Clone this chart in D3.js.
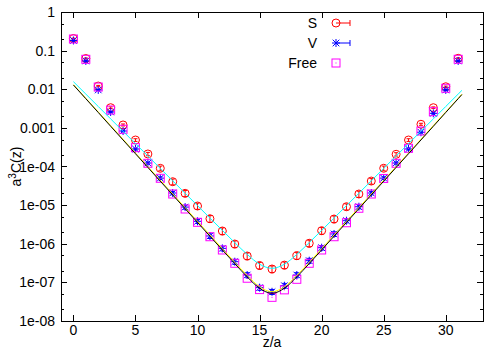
<!DOCTYPE html>
<html><head><meta charset="utf-8">
<script src="https://cdn.jsdelivr.net/npm/d3@7"></script>
<style>
body{margin:0;background:#fff}
svg{display:block}
text{font-family:"Liberation Sans",Arial,Helvetica,sans-serif;fill:#000}
</style>
</head><body>
<svg id="c" width="500" height="350"></svg>
<script>
// ---- data ----
const zs = [0,1,2,3,4,5,6,7,8,9,10,11,12,13,14,15,16,17,18,19,20,21,22,23,24,25,26,27,28,29,30,31];
const sVals = [0.206,0.0625,0.0121,3.33e-3,1.19e-3,4.85e-4,2.11e-4,8.98e-5,4.04e-5,2.02e-5,9.49e-6,4.45e-6,2.14e-6,9.85e-7,4.82e-7,2.74e-7,2.22e-7,2.80e-7,4.90e-7,1.03e-6,2.18e-6,4.37e-6,9.10e-6,1.94e-5,4.20e-5,9.00e-5,2.07e-4,4.85e-4,1.24e-3,3.33e-3,0.0116,0.0633];
const sErr = [0.02,0.03,0.04,0.05,0.06,0.08,0.10,0.14,0.17,0.18,0.18,0.2,0.2,0.2,0.2,0.2,0.2,0.2,0.2,0.2,0.2,0.2,0.18,0.18,0.17,0.14,0.10,0.08,0.06,0.05,0.04,0.03];
const vVals = [0.183,0.054,9.6e-3,2.58e-3,8.3e-4,2.84e-4,1.23e-4,5.0e-5,2.06e-5,8.9e-6,3.81e-6,1.59e-6,7.6e-7,3.43e-7,1.55e-7,7.3e-8,5.7e-8,8.2e-8,1.55e-7,3.64e-7,7.9e-7,1.79e-6,3.95e-6,9.1e-6,2.06e-5,5.0e-5,1.23e-4,2.84e-4,7.7e-4,2.38e-3,9.6e-3,0.054];
const vErr = [0.02,0.02,0.03,0.03,0.04,0.05,0.06,0.08,0.1,0.12,0.12,0.14,0.14,0.15,0.15,0.15,0.15,0.15,0.15,0.15,0.14,0.14,0.12,0.12,0.1,0.08,0.06,0.05,0.04,0.03,0.03,0.02];
const freeVals = [0.2,0.0596,0.0114,2.9e-3,9.2e-4,3.07e-4,1.21e-4,4.95e-5,1.94e-5,7.94e-6,3.59e-6,1.52e-6,6.9e-7,3.12e-7,1.28e-7,6.5e-8,4.1e-8,6.4e-8,1.2e-7,3.12e-7,6.9e-7,1.52e-6,3.5e-6,8.3e-6,1.94e-5,4.9e-5,1.21e-4,2.96e-4,8.3e-4,2.62e-3,0.0106,0.0596];
// fit curves
const fitZ = [0,1,2,3,4,5,6,7,8,9,10,11,12,13,14,15,16,17,18,19,20,21,22,23,24,25,26,27,28,29,30,31,31.3];
const fitCyan = [1.57e-2,7.50e-3,3.58e-3,1.71e-3,8.17e-4,3.91e-4,1.87e-4,8.91e-5,4.26e-5,2.03e-5,9.70e-6,4.63e-6,2.22e-6,1.07e-6,5.31e-7,2.96e-7,2.31e-7,2.96e-7,5.31e-7,1.07e-6,2.22e-6,4.63e-6,9.70e-6,2.03e-5,4.26e-5,8.91e-5,1.87e-4,3.91e-4,8.17e-4,1.71e-3,3.58e-3,7.50e-3,9.35e-3];
const fitYellow = [1.32e-2,5.85e-3,2.59e-3,1.15e-3,5.07e-4,2.24e-4,9.93e-5,4.40e-5,1.95e-5,8.61e-6,3.81e-6,1.69e-6,7.46e-7,3.33e-7,1.52e-7,7.73e-8,5.73e-8,7.73e-8,1.52e-7,3.33e-7,7.46e-7,1.69e-6,3.81e-6,8.61e-6,1.95e-5,4.40e-5,9.93e-5,2.24e-4,5.07e-4,1.15e-3,2.59e-3,5.85e-3,7.46e-3];
const fitBlack = [1.29e-2,5.69e-3,2.51e-3,1.10e-3,4.86e-4,2.14e-4,9.46e-5,4.17e-5,1.84e-5,8.09e-6,3.56e-6,1.57e-6,6.92e-7,3.07e-7,1.39e-7,7.06e-8,5.22e-8,7.06e-8,1.39e-7,3.07e-7,6.92e-7,1.57e-6,3.56e-6,8.09e-6,1.84e-5,4.17e-5,9.46e-5,2.14e-4,4.86e-4,1.10e-3,2.51e-3,5.69e-3,7.28e-3];
const xTicks = [0,5,10,15,20,25,30];
const yTicks = [1,0.1,0.01,0.001,1e-4,1e-5,1e-6,1e-7,1e-8];
const yTickLabels = ["1","0.1","0.01","0.001","1e-04","1e-05","1e-06","1e-07","1e-08"];
const seriesNames = ["S","V","Free"];
const xTitle = "z/a";

// ---- layout ----
const L=61, R=483, T=12, B=321;
const svg = d3.select("#c");
const x = d3.scaleLinear().domain([-1,33]).range([L,R]);
const y = d3.scaleLog().domain([1e-8,1]).range([B,T]);
const FS = 14;

// minor ticks
const minor = [];
for (let e=-8;e<0;e++){ [2,5].forEach(m=>minor.push(m*Math.pow(10,e))); }

const g = svg.append("g");
// ticks
const tk = g.append("g").attr("stroke","#000").attr("stroke-width",1);
yTicks.forEach(v=>{
  const yy = Math.round(y(v))+0.5;
  tk.append("line").attr("x1",L).attr("x2",L+6).attr("y1",yy).attr("y2",yy);
  tk.append("line").attr("x1",R).attr("x2",R-6).attr("y1",yy).attr("y2",yy);
});
minor.forEach(v=>{
  const yy = Math.round(y(v))+0.5;
  tk.append("line").attr("x1",L).attr("x2",L+3).attr("y1",yy).attr("y2",yy);
  tk.append("line").attr("x1",R).attr("x2",R-3).attr("y1",yy).attr("y2",yy);
});
xTicks.forEach(v=>{
  const xx = Math.round(x(v))+0.5;
  tk.append("line").attr("x1",xx).attr("x2",xx).attr("y1",B).attr("y2",B-6);
  tk.append("line").attr("x1",xx).attr("x2",xx).attr("y1",T).attr("y2",T+6);
});
// tick labels
yTicks.forEach((v,i)=>{
  g.append("text").attr("x",L-6).attr("y",y(v)).attr("dy","0.36em")
   .attr("text-anchor","end").attr("font-size",FS).text(yTickLabels[i]);
});
xTicks.forEach(v=>{
  g.append("text").attr("x",x(v)).attr("y",B+14).attr("text-anchor","middle")
   .attr("font-size",FS).text(v);
});
// axis titles
g.append("text").attr("x",x(16)).attr("y",347).attr("text-anchor","middle").attr("font-size",FS).text(xTitle);
const yt = g.append("text").attr("transform",`translate(21,${(T+B)/2}) rotate(-90)`)
  .attr("text-anchor","middle").attr("font-size",FS);
yt.append("tspan").text("a");
yt.append("tspan").attr("font-size",FS*0.72).attr("dy",-5).text("3");
yt.append("tspan").attr("dy",5).text("C(z)");

// ---- series ----
const red="#ff0000", blue="#0000ff", mag="#ff00ff";
function errBars(par, vals, errs, col){
  zs.forEach((z,i)=>{
    const xx=x(z), y1=y(vals[i]*(1+errs[i])), y0=y(vals[i]*(1-errs[i]));
    par.append("line").attr("x1",xx).attr("x2",xx).attr("y1",y0).attr("y2",y1).attr("stroke",col);
    par.append("line").attr("x1",xx-2).attr("x2",xx+2).attr("y1",y0).attr("y2",y0).attr("stroke",col);
    par.append("line").attr("x1",xx-2).attr("x2",xx+2).attr("y1",y1).attr("y2",y1).attr("stroke",col);
  });
}
function circ(par,cx,cy){ par.append("circle").attr("cx",cx).attr("cy",cy).attr("r",4).attr("fill","none").attr("stroke",red); }
function star(par,cx,cy){
  const s=4, d=3.3;
  [[-s,0,s,0],[0,-s,0,s],[-d,-d,d,d],[-d,d,d,-d]].forEach(p=>
    par.append("line").attr("x1",cx+p[0]).attr("y1",cy+p[1]).attr("x2",cx+p[2]).attr("y2",cy+p[3]).attr("stroke",blue));
}
function sq(par,cx,cy){
  par.append("rect").attr("x",cx-4).attr("y",cy-4).attr("width",8).attr("height",8).attr("fill","none").attr("stroke",mag);
  par.append("rect").attr("x",cx-0.5).attr("y",cy-0.5).attr("width",1).attr("height",1).attr("fill",mag);
}

const gS = svg.append("g").attr("stroke-width",1);
errBars(gS, sVals, sErr, red);
zs.forEach((z,i)=>circ(gS,x(z),y(sVals[i])));
const gV = svg.append("g").attr("stroke-width",1);
errBars(gV, vVals, vErr, blue);
zs.forEach((z,i)=>star(gV,x(z),y(vVals[i])));
const gF = svg.append("g").attr("stroke-width",1);
zs.forEach((z,i)=>sq(gF,x(z),y(freeVals[i])));

const line = d3.line().x(d=>x(d[0])).y(d=>y(d[1])).curve(d3.curveMonotoneX);
[[fitCyan,"#00ffff"],[fitYellow,"#ffff00"],[fitBlack,"#000000"]].forEach(([arr,col])=>{
  svg.append("path").attr("d",line(fitZ.map((z,i)=>[z,arr[i]])))
    .attr("fill","none").attr("stroke",col).attr("stroke-width",1);
});

// ---- legend ----
const lg = svg.append("g");
const rows=[23,43,63];
seriesNames.forEach((n,i)=>{
  lg.append("text").attr("x",317).attr("y",rows[i]).attr("dy","0.36em").attr("text-anchor","end").attr("font-size",FS).text(n);
});
lg.append("line").attr("x1",336).attr("x2",350).attr("y1",rows[0]).attr("y2",rows[0]).attr("stroke",red);
lg.append("line").attr("x1",350).attr("x2",350).attr("y1",rows[0]-3).attr("y2",rows[0]+3).attr("stroke",red);
circ(lg,336,rows[0]);
lg.append("line").attr("x1",336).attr("x2",350).attr("y1",rows[1]).attr("y2",rows[1]).attr("stroke",blue);
lg.append("line").attr("x1",350).attr("x2",350).attr("y1",rows[1]-3).attr("y2",rows[1]+3).attr("stroke",blue);
star(lg,336,rows[1]);
sq(lg,336,rows[2]);

// border
svg.append("rect").attr("x",L+0.5).attr("y",T+0.5).attr("width",R-L).attr("height",B-T)
  .attr("fill","none").attr("stroke","#000").attr("stroke-width",1);
</script>
</body></html>
